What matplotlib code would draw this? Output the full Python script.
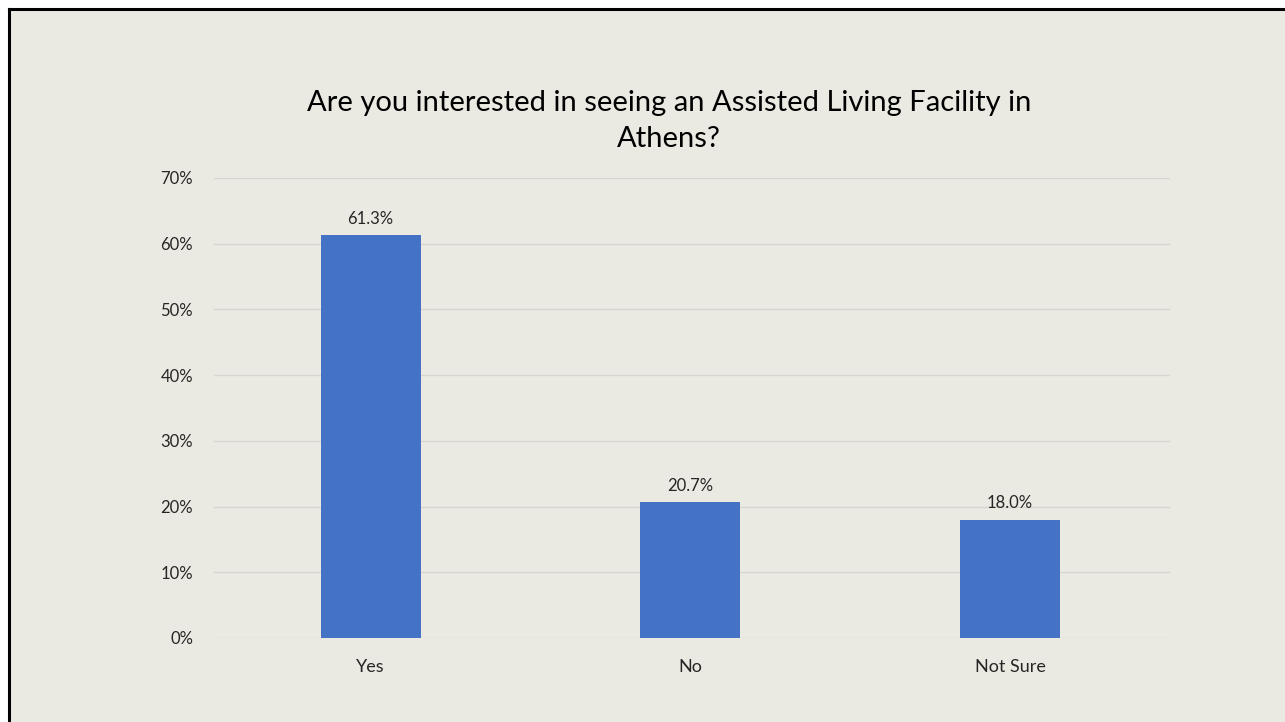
import matplotlib.pyplot as plt
from matplotlib.lines import Line2D
from matplotlib.ticker import FuncFormatter

categories = ['Yes', 'No', 'Not Sure']
values = [61.3, 20.7, 18.0]
yticks = [0, 10, 20, 30, 40, 50, 60, 70]
title = 'Are you interested in seeing an Assisted Living Facility in\nAthens?'

W, H = 1285, 722
bg = '#EBEAE2'
plt.rcParams['font.family'] = ['Lato', 'DejaVu Sans']

fig = plt.figure(figsize=(W / 100, H / 100), dpi=100, facecolor='white')
# beige chart area with black frame on top and left
fig.patches.append(plt.Rectangle((10 / W, 0), 1, 1 - 10 / H, transform=fig.transFigure,
                                 facecolor=bg, edgecolor='none', zorder=-1))
fig.lines.append(Line2D([9 / W, 1], [1 - 9 / H, 1 - 9 / H], transform=fig.transFigure,
                        color='black', linewidth=2.2))
fig.lines.append(Line2D([9 / W, 9 / W], [0, 1 - 9 / H], transform=fig.transFigure,
                        color='black', linewidth=2.2))

ax = fig.add_axes([214 / W, 1 - 638 / H, (1170 - 214) / W, (638 - 178) / H])
ax.set_facecolor(bg)
x = range(len(categories))
bars = ax.bar(x, values, width=0.3125, color='#4472C4', zorder=3)
ax.set_xlim(-0.49, len(categories) - 0.5)
ax.set_ylim(0, 70)
ax.set_yticks(yticks)
ax.yaxis.set_major_formatter(FuncFormatter(lambda v, p: f'{v:.0f}%'))
ax.grid(axis='y', color='#D6D5D0', linewidth=1, zorder=0)
for s in ax.spines.values():
    s.set_visible(False)
ax.tick_params(axis='both', length=0, colors='#262626', labelsize=12)
ax.tick_params(axis='y', pad=15)
ax.tick_params(axis='x', pad=15, labelsize=13)
ax.set_xticks(list(x))
ax.set_xticklabels(categories)

for b, v in zip(bars, values):
    ax.annotate(f'{v:.1f}%', (b.get_x() + b.get_width() / 2, v), xytext=(0, 6),
                textcoords='offset points', ha='center', va='bottom',
                fontsize=12, color='#262626')

fig.text(669 / W, 1 - 121 / H, title, ha='center', va='center', fontsize=21,
         color='black', linespacing=1.5)

fig.savefig('out.png', dpi=100, facecolor='white')
